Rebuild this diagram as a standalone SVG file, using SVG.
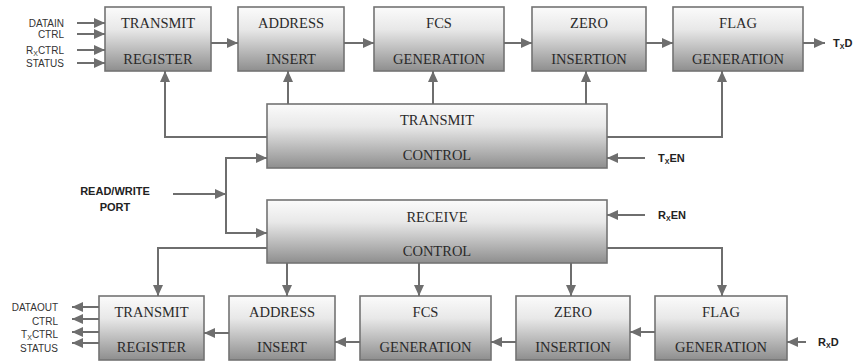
<svg xmlns="http://www.w3.org/2000/svg" width="864" height="362" viewBox="0 0 864 362">
  <defs>
    <linearGradient id="boxFill" x1="0" y1="0" x2="0" y2="1">
      <stop offset="0" stop-color="#fbfbfb"/>
      <stop offset="0.35" stop-color="#e8e8e8"/>
      <stop offset="1" stop-color="#8e8e8e"/>
    </linearGradient>
    <marker id="arrow" markerUnits="userSpaceOnUse" markerWidth="11" markerHeight="10" refX="11" refY="5" orient="auto">
      <path d="M0,0 L11,5 L0,10 z" fill="#6e6e6e"/>
    </marker>
  </defs>
  <style>
    .box { fill: url(#boxFill); stroke: #737373; stroke-width: 1.6; }
    .blk { font-family: "Liberation Serif", "DejaVu Serif", "Times New Roman", serif; font-size: 14.5px; fill: #2a2a2a; text-anchor: middle; }
    .wire { fill: none; stroke: #6e6e6e; stroke-width: 2; }
    .arr { marker-end: url(#arrow); }
    .sig { font-family: "Liberation Sans", Arial, sans-serif; font-size: 10px; fill: #333; }
    .bold { font-family: "Liberation Sans", Arial, sans-serif; font-size: 11px; font-weight: bold; fill: #222; }
    .sub { font-size: 7px; }
  </style>
  <rect width="864" height="362" fill="#ffffff"/>

  <!-- transmit path -->
  <g font-family="Liberation Serif, DejaVu Serif, serif">
  <g id="tx-register"><rect class="box" x="105" y="7" width="106" height="64"/><text class="blk" x="158" y="28">TRANSMIT</text><text class="blk" x="158" y="63.5">REGISTER</text></g>
  <g id="tx-address"><rect class="box" x="238" y="7" width="106" height="64"/><text class="blk" x="291" y="28">ADDRESS</text><text class="blk" x="291" y="63.5">INSERT</text></g>
  <g id="tx-fcs"><rect class="box" x="374" y="7" width="130" height="64"/><text class="blk" x="439" y="28">FCS</text><text class="blk" x="439" y="63.5">GENERATION</text></g>
  <g id="tx-zero"><rect class="box" x="532" y="7" width="114" height="64"/><text class="blk" x="589" y="28">ZERO</text><text class="blk" x="589" y="63.5">INSERTION</text></g>
  <g id="tx-flag"><rect class="box" x="673" y="7" width="130" height="64"/><text class="blk" x="738" y="28">FLAG</text><text class="blk" x="738" y="63.5">GENERATION</text></g>

  <!-- control blocks -->
  <g id="tx-control"><rect class="box" x="267" y="104" width="340" height="64"/><text class="blk" x="437" y="125">TRANSMIT</text><text class="blk" x="437" y="160">CONTROL</text></g>
  <g id="rx-control"><rect class="box" x="267" y="200" width="340" height="63"/><text class="blk" x="437" y="222">RECEIVE</text><text class="blk" x="437" y="256">CONTROL</text></g>

  <!-- receive path -->
  <g id="rx-register"><rect class="box" x="99" y="296" width="105" height="64"/><text class="blk" x="151.5" y="317">TRANSMIT</text><text class="blk" x="151.5" y="352">REGISTER</text></g>
  <g id="rx-address"><rect class="box" x="229" y="296" width="106" height="64"/><text class="blk" x="282" y="317">ADDRESS</text><text class="blk" x="282" y="352">INSERT</text></g>
  <g id="rx-fcs"><rect class="box" x="360" y="296" width="131" height="64"/><text class="blk" x="425.5" y="317">FCS</text><text class="blk" x="425.5" y="352">GENERATION</text></g>
  <g id="rx-zero"><rect class="box" x="516" y="296" width="114" height="64"/><text class="blk" x="573" y="317">ZERO</text><text class="blk" x="573" y="352">INSERTION</text></g>
  <g id="rx-flag"><rect class="box" x="655" y="296" width="132" height="64"/><text class="blk" x="721" y="317">FLAG</text><text class="blk" x="721" y="352">GENERATION</text></g>
  </g>

  <!-- connectors -->
  <g id="connectors">
    <path class="wire arr" d="M77,23 H105"/>
    <path class="wire arr" d="M77,34 H105"/>
    <path class="wire arr" d="M77,50 H105"/>
    <path class="wire arr" d="M77,63 H105"/>
    <path class="wire arr" d="M211,43 H238"/>
    <path class="wire arr" d="M344,43 H374"/>
    <path class="wire arr" d="M504,43 H532"/>
    <path class="wire arr" d="M646,43 H673"/>
    <path class="wire arr" d="M803,43 H825"/>
    <path class="wire arr" d="M288,104 V71"/>
    <path class="wire arr" d="M433,104 V71"/>
    <path class="wire arr" d="M586,104 V71"/>
    <path class="wire arr" d="M267,137 H165 V71"/>
    <path class="wire arr" d="M607,137 H722 V71"/>
    <path class="wire arr" d="M645,158 H607"/>
    <path class="wire arr" d="M173,194 H226"/>
    <path class="wire" d="M226,157 V234"/>
    <path class="wire arr" d="M226,158 H267"/>
    <path class="wire arr" d="M226,233 H267"/>
    <path class="wire arr" d="M645,215 H607"/>
    <path class="wire arr" d="M267,248 H158 V296"/>
    <path class="wire arr" d="M287,263 V296"/>
    <path class="wire arr" d="M419,263 V296"/>
    <path class="wire arr" d="M571,263 V296"/>
    <path class="wire arr" d="M607,248 H722 V296"/>
    <path class="wire arr" d="M229,333 H204"/>
    <path class="wire arr" d="M360,342 H335"/>
    <path class="wire arr" d="M516,342 H491"/>
    <path class="wire arr" d="M655,332 H630"/>
    <path class="wire arr" d="M806,342 H787"/>
    <path class="wire arr" d="M99,307 H72"/>
    <path class="wire arr" d="M99,319 H72"/>
    <path class="wire arr" d="M99,332 H72"/>
    <path class="wire arr" d="M99,343 H72"/>
  </g>

  <!-- signal labels -->
  <g id="labels">
    <text class="sig" x="64" y="26.5" text-anchor="end">DATAIN</text>
    <text class="sig" x="64" y="37.5" text-anchor="end">CTRL</text>
    <text class="sig" x="64" y="53.5" text-anchor="end">R<tspan class="sub" dy="2">X</tspan><tspan dy="-2">CTRL</tspan></text>
    <text class="sig" x="64" y="66.5" text-anchor="end">STATUS</text>
    <text class="sig" x="58" y="310.5" text-anchor="end">DATAOUT</text>
    <text class="sig" x="58" y="324.5" text-anchor="end">CTRL</text>
    <text class="sig" x="58" y="338" text-anchor="end">T<tspan class="sub" dy="2">X</tspan><tspan dy="-2">CTRL</tspan></text>
    <text class="sig" x="58" y="352" text-anchor="end">STATUS</text>
    <text class="bold" x="833" y="47">T<tspan class="sub" dy="2">X</tspan><tspan dy="-2">D</tspan></text>
    <text class="bold" x="658" y="162">T<tspan class="sub" dy="2">X</tspan><tspan dy="-2">EN</tspan></text>
    <text class="bold" x="658" y="219">R<tspan class="sub" dy="2">X</tspan><tspan dy="-2">EN</tspan></text>
    <text class="bold" x="818" y="346">R<tspan class="sub" dy="2">X</tspan><tspan dy="-2">D</tspan></text>
    <text class="bold" x="115" y="195" text-anchor="middle">READ/WRITE</text>
    <text class="bold" x="115" y="211" text-anchor="middle">PORT</text>
  </g>
</svg>
